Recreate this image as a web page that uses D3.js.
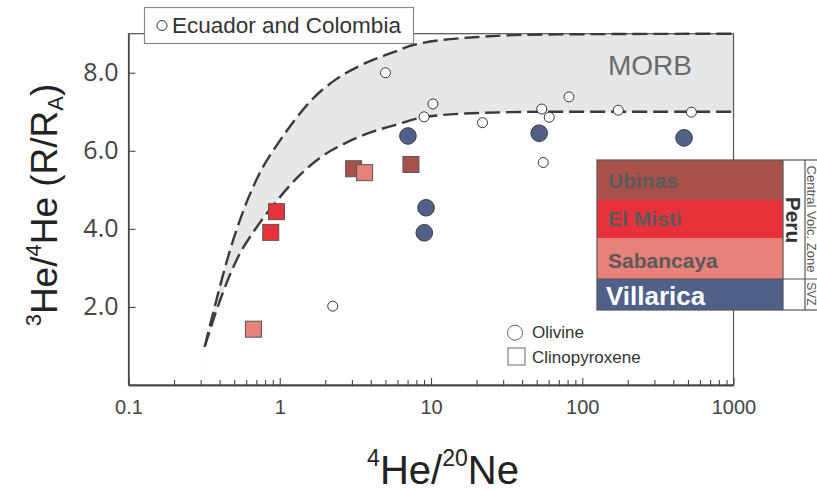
<!DOCTYPE html>
<html>
<head>
<meta charset="utf-8">
<script src="https://cdn.jsdelivr.net/npm/d3@7/dist/d3.min.js"></script>
<style>
  html, body { margin: 0; padding: 0; background: #fff; }
  svg { display: block; }
</style>
</head>
<body>
<svg id="chart" width="817" height="491"></svg>
<script>
// 4He/20Ne axis ticks
const xMajorTicks = [0.1, 1, 10, 100, 1000];
const xMajorLabels = ["0.1", "1", "10", "100", "1000"];
// 3He/4He axis ticks
const yTicks = [2, 4, 6, 8];
const yTickLabels = ["2.0", "4.0", "6.0", "8.0"];

// MORB envelope: upper and lower mixing curves between air and mantle
const morbUpperHeNe = [0.319, 0.371, 0.455, 0.587, 0.756, 0.974, 1.257, 1.621, 2.313, 3.475, 5.775, 7.60, 21.1, 58.3, 1000];
const morbUpperRa   = [0.98, 2.0, 3.28, 4.56, 5.51, 6.19, 6.79, 7.30, 7.81, 8.20, 8.54, 8.71, 8.92, 8.98, 9.0];
const morbLowerHeNe = [0.319, 0.411, 0.53, 0.683, 0.927, 1.257, 1.889, 2.695, 3.845, 5.775, 8.89, 21.1, 58.3, 1000];
const morbLowerRa   = [0.98, 2.26, 3.28, 3.97, 4.65, 5.25, 5.85, 6.19, 6.45, 6.66, 6.86, 6.97, 7.0, 7.0];

// Ecuador and Colombia (small open circles)
const ecuColHeNe = [5.0, 10.3, 9.0, 2.24, 21.9, 54, 60.5, 81.7, 173, 527, 55.2];
const ecuColRa   = [8.0, 7.2, 6.87, 2.02, 6.72, 7.07, 6.86, 7.38, 7.04, 6.99, 5.70];

// Villarica olivine
const villaricaHeNe = [7.04, 51.9, 471, 9.27, 9.03];
const villaricaRa   = [6.38, 6.45, 6.33, 4.54, 3.90];

// Clinopyroxene: Ubinas, Sabancaya, El Misti
const ubinasHeNe = [3.08, 7.37];
const ubinasRa   = [5.54, 5.65];
const sabancayaHeNe = [3.64, 0.67];
const sabancayaRa   = [5.44, 1.43];
const elMistiHeNe = [0.951, 0.872];
const elMistiRa   = [4.44, 3.91];

// Volcano legend
const volcanoNames  = ["Ubinas", "El Misti", "Sabancaya", "Villarica"];
const volcanoColors = ["#a8514b", "#e8323b", "#e7817a", "#4f6089"];

const svg = d3.select("#chart");
const plot = { left: 128.5, right: 733.5, top: 33.7, bottom: 385 };

const x = d3.scaleLog().domain([0.1, 1000]).range([plot.left, plot.right]);
const y = d3.scaleLinear().domain([0, 9]).range([plot.bottom, plot.top]);

const zip = (a, b) => a.map((v, i) => [v, b[i]]);

// MORB band: gray under upper curve, then white under lower curve
const areaGen = d3.area()
  .x(d => x(d[0])).y1(d => y(d[1])).y0(plot.bottom)
  .curve(d3.curveMonotoneX);
svg.append("path").datum(zip(morbUpperHeNe, morbUpperRa))
  .attr("d", areaGen).attr("fill", "#e6e7e8");
svg.append("path").datum(zip(morbLowerHeNe, morbLowerRa))
  .attr("d", areaGen).attr("fill", "#fff");

// Plot frame
svg.append("rect")
  .attr("x", plot.left).attr("y", plot.top)
  .attr("width", plot.right - plot.left).attr("height", plot.bottom - plot.top)
  .attr("fill", "none").attr("stroke", "#555").attr("stroke-width", 1.2);

// X axis (ticks pointing inward)
const minorTicks = [];
[0.1, 1, 10, 100].forEach(d => { for (let k = 2; k <= 9; k++) minorTicks.push(d * k); });

const xMinor = svg.append("g").attr("transform", `translate(0,${plot.bottom})`)
  .call(d3.axisBottom(x).tickValues(minorTicks).tickSize(-5).tickSizeOuter(0).tickFormat(""));
const xMajor = svg.append("g").attr("transform", `translate(0,${plot.bottom})`)
  .call(d3.axisBottom(x).tickValues(xMajorTicks).tickSize(-7).tickSizeOuter(0)
    .tickPadding(15).tickFormat((d, i) => xMajorLabels[i]));
[xMinor, xMajor].forEach(g => {
  g.select(".domain").attr("stroke", "#444").attr("stroke-width", 1.4);
  g.selectAll(".tick line").attr("stroke", "#444").attr("stroke-width", 1.1);
});
xMajor.selectAll(".tick text")
  .attr("font-family", "'Liberation Sans', Arial, sans-serif")
  .attr("font-size", 20).attr("fill", "#444");

// Y axis
const yAxis = svg.append("g").attr("transform", `translate(${plot.left},0)`)
  .call(d3.axisLeft(y).tickValues(yTicks).tickSize(-7).tickSizeOuter(0)
    .tickPadding(10).tickFormat((d, i) => yTickLabels[i]));
yAxis.select(".domain").attr("stroke", "#444").attr("stroke-width", 1.4);
yAxis.selectAll(".tick line").attr("stroke", "#444").attr("stroke-width", 1.1);
yAxis.selectAll(".tick text")
  .attr("font-family", "'Open Sans', sans-serif")
  .attr("font-size", 25).attr("fill", "#444");

// MORB dashed boundaries
const lineGen = d3.line().x(d => x(d[0])).y(d => y(d[1])).curve(d3.curveMonotoneX);
[zip(morbUpperHeNe, morbUpperRa), zip(morbLowerHeNe, morbLowerRa)].forEach(pts => {
  svg.append("path").datum(pts).attr("d", lineGen)
    .attr("fill", "none").attr("stroke", "#3a3a3a")
    .attr("stroke-width", 2.4).attr("stroke-dasharray", "15,6");
});

svg.append("text").attr("x", 608).attr("y", 75)
  .attr("font-family", "'Liberation Sans', Arial, sans-serif")
  .attr("font-size", 28).attr("fill", "#6b6b6b").text("MORB");

// Ecuador and Colombia
svg.append("g").selectAll("circle").data(zip(ecuColHeNe, ecuColRa)).join("circle")
  .attr("cx", d => x(d[0])).attr("cy", d => y(d[1])).attr("r", 5)
  .attr("fill", "#fff").attr("stroke", "#333").attr("stroke-width", 1);

// Clinopyroxene squares
const sq = 16;
function squares(hene, ra, color) {
  svg.append("g").selectAll("rect").data(zip(hene, ra)).join("rect")
    .attr("x", d => x(d[0]) - sq / 2).attr("y", d => y(d[1]) - sq / 2)
    .attr("width", sq).attr("height", sq)
    .attr("fill", color).attr("stroke", "#555").attr("stroke-width", 1);
}
squares(ubinasHeNe, ubinasRa, volcanoColors[0]);
squares(sabancayaHeNe, sabancayaRa, volcanoColors[2]);
squares(elMistiHeNe, elMistiRa, volcanoColors[1]);

// Villarica olivine circles
svg.append("g").selectAll("circle").data(zip(villaricaHeNe, villaricaRa)).join("circle")
  .attr("cx", d => x(d[0])).attr("cy", d => y(d[1])).attr("r", 8.3)
  .attr("fill", volcanoColors[3]).attr("stroke", "#3a3a3a").attr("stroke-width", 1);

// Top legend
svg.append("rect").attr("x", 144.5).attr("y", 7.5).attr("width", 269).attr("height", 36)
  .attr("fill", "#fff").attr("stroke", "#8a8a8a").attr("stroke-width", 1.2);
svg.append("circle").attr("cx", 162).attr("cy", 25.5).attr("r", 5)
  .attr("fill", "#fff").attr("stroke", "#333").attr("stroke-width", 1);
svg.append("text").attr("x", 172).attr("y", 33)
  .attr("font-family", "'Liberation Sans', Arial, sans-serif")
  .attr("font-size", 22.5).attr("fill", "#333").text("Ecuador and Colombia");

// Mineral legend
svg.append("circle").attr("cx", 515).attr("cy", 332.7).attr("r", 7.5)
  .attr("fill", "#fff").attr("stroke", "#666").attr("stroke-width", 1);
svg.append("rect").attr("x", 508).attr("y", 348).attr("width", 17).attr("height", 17)
  .attr("fill", "#fff").attr("stroke", "#666").attr("stroke-width", 1);
svg.append("text").attr("x", 532).attr("y", 338)
  .attr("font-family", "'Liberation Sans', Arial, sans-serif")
  .attr("font-size", 17).attr("fill", "#333").text("Olivine");
svg.append("text").attr("x", 532).attr("y", 363)
  .attr("font-family", "'Liberation Sans', Arial, sans-serif")
  .attr("font-size", 17).attr("fill", "#333").text("Clinopyroxene");

// Volcano legend table
const leg = { x: 597, colEnd: 783, peruEnd: 805, right: 830 };
const rowEdges = [160, 200, 238, 279, 310];
const lg = svg.append("g");
lg.append("rect").attr("x", leg.x).attr("y", rowEdges[0])
  .attr("width", leg.right - leg.x).attr("height", rowEdges[4] - rowEdges[0])
  .attr("fill", "#fff");
volcanoNames.forEach((name, i) => {
  lg.append("rect").attr("x", leg.x).attr("y", rowEdges[i])
    .attr("width", leg.colEnd - leg.x).attr("height", rowEdges[i + 1] - rowEdges[i])
    .attr("fill", volcanoColors[i]);
});
const nameBaselines = [188, 226, 268, 305];
volcanoNames.forEach((name, i) => {
  const isChile = i === 3;
  lg.append("text").attr("x", isChile ? 606 : 608).attr("y", nameBaselines[i])
    .attr("font-family", "'Liberation Sans', Arial, sans-serif")
    .attr("font-weight", "bold")
    .attr("font-size", isChile ? 26 : 21)
    .attr("fill", isChile ? "#fff" : "#5a5a5a")
    .text(name);
});
// frame and dividers
lg.append("rect").attr("x", leg.x).attr("y", rowEdges[0])
  .attr("width", leg.right - leg.x).attr("height", rowEdges[4] - rowEdges[0])
  .attr("fill", "none").attr("stroke", "#555").attr("stroke-width", 1.2);
[leg.colEnd, leg.peruEnd].forEach(xx => {
  lg.append("line").attr("x1", xx).attr("x2", xx).attr("y1", rowEdges[0]).attr("y2", rowEdges[4])
    .attr("stroke", "#555").attr("stroke-width", 1.2);
});
lg.append("line").attr("x1", leg.x).attr("x2", leg.right).attr("y1", rowEdges[3]).attr("y2", rowEdges[3])
  .attr("stroke", "#555").attr("stroke-width", 1.2);

// Country and zone labels (rotated)
const clip = svg.append("defs").append("clipPath").attr("id", "chiClip");
clip.append("rect").attr("x", leg.colEnd).attr("y", rowEdges[3] + 1)
  .attr("width", leg.peruEnd - leg.colEnd).attr("height", rowEdges[4] - rowEdges[3] - 1);

lg.append("text").attr("transform", `translate(786,220) rotate(90)`)
  .attr("text-anchor", "middle")
  .attr("font-family", "'Liberation Sans', Arial, sans-serif")
  .attr("font-weight", "bold").attr("font-size", 21).attr("fill", "#333").text("Peru");
lg.append("text").attr("transform", `translate(786,282) rotate(90)`)
  .attr("clip-path", "url(#chiClip)")
  .attr("font-family", "'Liberation Sans', Arial, sans-serif")
  .attr("font-weight", "bold").attr("font-size", 21).attr("fill", "#333").text("Chile");
lg.append("text").attr("transform", `translate(806.5,219) rotate(90)`)
  .attr("text-anchor", "middle")
  .attr("font-family", "'Liberation Sans', Arial, sans-serif")
  .attr("font-size", 13).attr("fill", "#555").text("Central Volc. Zone");
lg.append("text").attr("transform", `translate(806.5,294) rotate(90)`)
  .attr("text-anchor", "middle")
  .attr("font-family", "'Liberation Sans', Arial, sans-serif")
  .attr("font-size", 12).attr("fill", "#555").text("SVZ");

// Axis titles
const xt = svg.append("text").attr("x", 443).attr("y", 484)
  .attr("text-anchor", "middle")
  .attr("font-family", "'Liberation Sans', Arial, sans-serif")
  .attr("font-size", 40).attr("fill", "#222");
xt.append("tspan").attr("font-size", 23).attr("dy", -18).text("4");
xt.append("tspan").attr("dy", 18).text("He/");
xt.append("tspan").attr("font-size", 23).attr("dy", -18).text("20");
xt.append("tspan").attr("dy", 18).text("Ne");

const yt = svg.append("text").attr("transform", "translate(57,205) rotate(-90)")
  .attr("text-anchor", "middle")
  .attr("font-family", "'Liberation Sans', Arial, sans-serif")
  .attr("font-size", 37).attr("fill", "#222");
yt.append("tspan").attr("font-size", 22).attr("dy", -16).text("3");
yt.append("tspan").attr("dy", 16).text("He/");
yt.append("tspan").attr("font-size", 22).attr("dy", -16).text("4");
yt.append("tspan").attr("dy", 16).text("He (R/R");
yt.append("tspan").attr("font-size", 22).attr("dy", 6).text("A");
yt.append("tspan").attr("dy", -6).text(")");
</script>
</body>
</html>
